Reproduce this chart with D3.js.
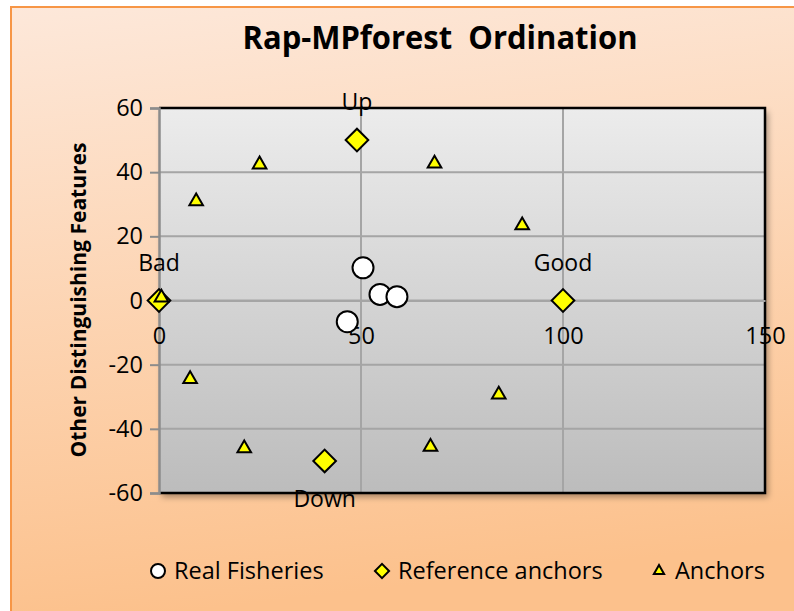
<!DOCTYPE html>
<html>
<head>
<meta charset="utf-8">
<script src="https://cdn.jsdelivr.net/npm/d3@7"></script>
<style>
  body { margin: 0; background: #fff; }
  text { font-family: "Open Sans", sans-serif; fill: #000; }
</style>
</head>
<body>
<svg id="drawing_region"></svg>
<script>
const width = 794;
const height = 611;

// data
const realX = [50.5, 54.7, 58.9, 46.6];
const realY = [10.2, 1.9, 1.2, -6.6];
const refX = [0, 100, 49, 41];
const refY = [0, 0, 50, -50];
const refLabels = ["Bad", "Good", "Up", "Down"];
const refLabelSide = [-1, -1, -1, 1];
const anchorX = [0.6, 9.2, 24.9, 68.2, 89.9, 7.7, 21.1, 67.2, 84.1];
const anchorY = [0.9, 30.9, 42.4, 42.7, 23.4, -24.5, -46.1, -45.6, -29.3];
const xTicks = [0, 50, 100, 150];
const yTicks = [-60, -40, -20, 0, 20, 40, 60];
const seriesNames = ["Real Fisheries", "Reference anchors", "Anchors"];

const plotLeft = 159, plotRight = 765, plotTop = 108, plotBottom = 493;

const svg = d3.select('#drawing_region')
    .attr('width', width)
    .attr('height', height);

const defs = svg.append("defs");
const bg = defs.append("linearGradient").attr("id", "bg")
    .attr("x1", 0).attr("y1", 0).attr("x2", 0.15).attr("y2", 1);
bg.append("stop").attr("offset", "0%").attr("stop-color", "#fde8da");
bg.append("stop").attr("offset", "100%").attr("stop-color", "#fcc18c");

const pg = defs.append("linearGradient").attr("id", "plotbg")
    .attr("x1", 0).attr("y1", 0).attr("x2", 0).attr("y2", 1);
pg.append("stop").attr("offset", "0%").attr("stop-color", "#ececec");
pg.append("stop").attr("offset", "100%").attr("stop-color", "#bcbcbc");

const shadow = defs.append("filter").attr("id", "shadow")
    .attr("x", "-5%").attr("y", "-5%").attr("width", "115%").attr("height", "115%");
shadow.append("feDropShadow").attr("dx", 3).attr("dy", 4)
    .attr("stdDeviation", 3).attr("flood-color", "#000").attr("flood-opacity", 0.35);

// chart area
svg.append("rect")
    .attr("x", 11).attr("y", 7)
    .attr("width", width).attr("height", height)
    .attr("fill", "url(#bg)")
    .attr("stroke", "#f79646").attr("stroke-width", 2);

const xscale = d3.scaleLinear().domain([0, 150]).range([plotLeft, plotRight]);
const yscale = d3.scaleLinear().domain([-60, 60]).range([plotBottom, plotTop]);

// plot area
svg.append("rect")
    .attr("x", plotLeft).attr("y", plotTop)
    .attr("width", plotRight - plotLeft).attr("height", plotBottom - plotTop)
    .attr("fill", "url(#plotbg)")
    .attr("filter", "url(#shadow)");

// gridlines
svg.append("g").selectAll("line")
    .data(yTicks.filter(d => d !== 60 && d !== -60))
    .join("line")
    .attr("x1", plotLeft).attr("x2", plotRight)
    .attr("y1", d => yscale(d)).attr("y2", d => yscale(d))
    .attr("stroke", "#a5a5a5").attr("stroke-width", 2);

svg.append("g").selectAll("line")
    .data(xTicks.filter(d => d !== 0 && d !== 150))
    .join("line")
    .attr("x1", d => xscale(d)).attr("x2", d => xscale(d))
    .attr("y1", plotTop).attr("y2", plotBottom)
    .attr("stroke", "#a5a5a5").attr("stroke-width", 2);

// plot border (top, right, bottom)
svg.append("path")
    .attr("d", `M${plotLeft},${plotTop}H${plotRight}V${plotBottom}H${plotLeft}`)
    .attr("fill", "none").attr("stroke", "#000").attr("stroke-width", 2.5);

// y axis
const yAxis = svg.append("g")
    .attr("transform", `translate(${plotLeft},0)`)
    .call(d3.axisLeft(yscale).tickValues(yTicks).tickFormat(d => String(d))
        .tickSize(9).tickPadding(7));
yAxis.select(".domain").attr("stroke", "#8c8c8c").attr("stroke-width", 2.5);
yAxis.selectAll(".tick line").attr("stroke", "#8c8c8c").attr("stroke-width", 2);
yAxis.selectAll(".tick text")
    .attr("font-size", 23.5).attr("font-family", "Open Sans").attr("fill", "#000");

// x axis crossing at y = 0
const xAxis = svg.append("g")
    .attr("transform", `translate(0,${yscale(0)})`)
    .call(d3.axisBottom(xscale).tickValues(xTicks).tickFormat(d => String(d))
        .tickSize(0).tickPadding(27));
xAxis.select(".domain").attr("stroke", "#a5a5a5").attr("stroke-width", 2);
xAxis.selectAll(".tick text")
    .attr("font-size", 23.5).attr("font-family", "Open Sans").attr("fill", "#000");

// title
svg.append("text")
    .attr("x", 440).attr("y", 49)
    .attr("text-anchor", "middle")
    .attr("font-size", 33).attr("font-weight", "bold")
    .style("white-space", "pre")
    .attr("textLength", 395).attr("lengthAdjust", "spacingAndGlyphs")
    .text("Rap-MPforest  Ordination");

// y axis title
svg.append("text")
    .attr("transform", "translate(86,300) rotate(-90)")
    .attr("text-anchor", "middle")
    .attr("font-size", 22).attr("font-weight", "bold")
    .attr("textLength", 315).attr("lengthAdjust", "spacingAndGlyphs")
    .text("Other Distinguishing Features");

// real fisheries (circles)
svg.append("g").selectAll("circle")
    .data(realX.map((x, i) => ({x: x, y: realY[i]})))
    .join("circle")
    .attr("cx", d => xscale(d.x)).attr("cy", d => yscale(d.y))
    .attr("r", 10.5)
    .attr("fill", "#fff").attr("stroke", "#000").attr("stroke-width", 2);

// reference anchors (diamonds)
const refData = refX.map((x, i) => ({x: x, y: refY[i], label: refLabels[i], side: refLabelSide[i]}));
svg.append("g").selectAll("path")
    .data(refData)
    .join("path")
    .attr("transform", d => `translate(${xscale(d.x)},${yscale(d.y)}) rotate(45)`)
    .attr("d", "M-8,-8H8V8H-8Z")
    .attr("fill", "#ffff00").attr("stroke", "#000").attr("stroke-width", 2);

svg.append("g").selectAll("text")
    .data(refData)
    .join("text")
    .attr("x", d => xscale(d.x))
    .attr("y", d => yscale(d.y) + d.side * 38)
    .attr("dy", "0.35em")
    .attr("text-anchor", "middle")
    .attr("font-size", 23)
    .text(d => d.label);

// anchors (triangles)
const tri = d3.symbol().type(d3.symbolTriangle).size(80);
svg.append("g").selectAll("path")
    .data(anchorX.map((x, i) => ({x: x, y: anchorY[i]})))
    .join("path")
    .attr("transform", d => `translate(${xscale(d.x)},${yscale(d.y)})`)
    .attr("d", tri)
    .attr("fill", "#ffff00").attr("stroke", "#000").attr("stroke-width", 2);

// legend
const legendX = [158, 382, 659];
const legend = svg.append("g").selectAll("g")
    .data(seriesNames)
    .join("g")
    .attr("transform", (d, i) => `translate(${legendX[i]},571)`);

legend.each(function(d, i) {
    const g = d3.select(this);
    if (i === 0) {
        g.append("circle").attr("r", 7)
            .attr("fill", "#fff").attr("stroke", "#000").attr("stroke-width", 2);
    } else if (i === 1) {
        g.append("path").attr("d", "M-5,-5H5V5H-5Z").attr("transform", "rotate(45)")
            .attr("fill", "#ffff00").attr("stroke", "#000").attr("stroke-width", 2);
    } else {
        g.append("path").attr("d", d3.symbol().type(d3.symbolTriangle).size(45))
            .attr("fill", "#ffff00").attr("stroke", "#000").attr("stroke-width", 2);
    }
    g.append("text")
        .attr("x", 16).attr("dy", "0.35em")
        .attr("font-size", 23.5)
        .text(d);
});
</script>
</body>
</html>
